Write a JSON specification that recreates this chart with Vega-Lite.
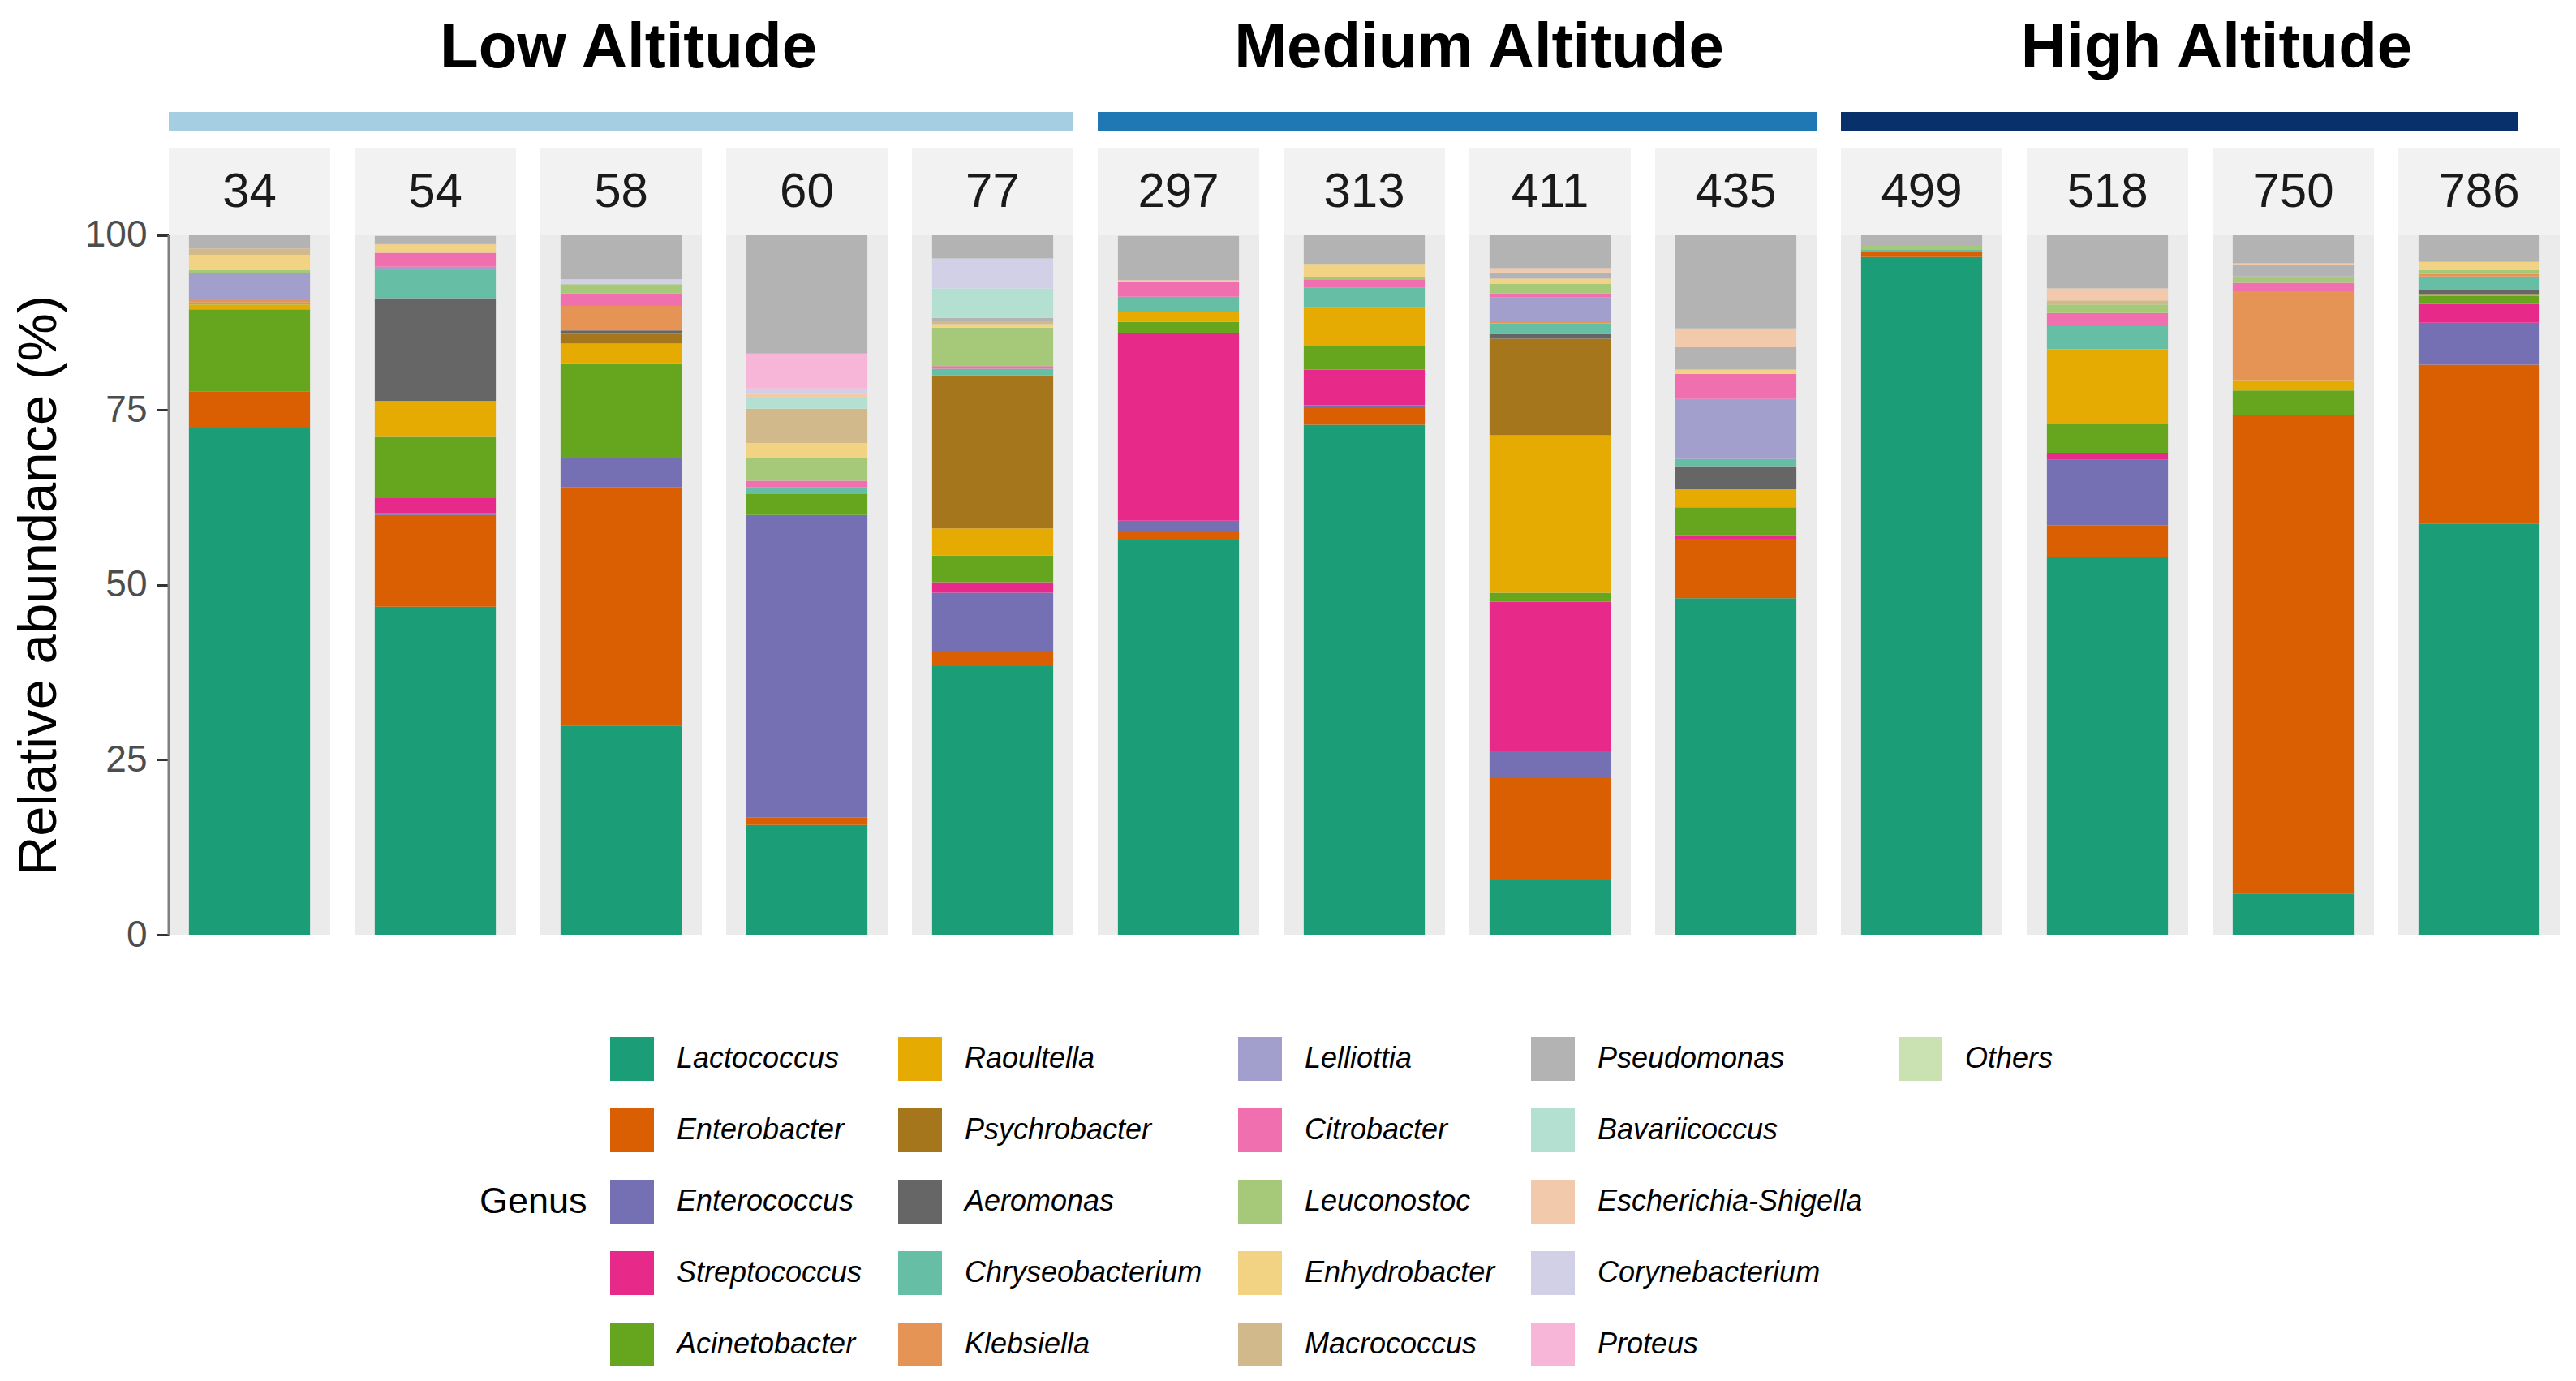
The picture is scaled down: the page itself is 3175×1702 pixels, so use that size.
{
  "$schema": "https://vega.github.io/schema/vega-lite/v6.json",
  "padding": {"left": 14, "top": 21, "right": 10, "bottom": 10},
  "background": "white",
  "datasets": {
    "abundance": [
      {"sample": 34, "genus": "Lactococcus", "abundance": 72.5},
      {"sample": 34, "genus": "Enterobacter", "abundance": 5.2},
      {"sample": 34, "genus": "Acinetobacter", "abundance": 11.7},
      {"sample": 34, "genus": "Raoultella", "abundance": 0.7},
      {"sample": 34, "genus": "Chryseobacterium", "abundance": 0.3},
      {"sample": 34, "genus": "Klebsiella", "abundance": 0.5},
      {"sample": 34, "genus": "Lelliottia", "abundance": 3.7},
      {"sample": 34, "genus": "Leuconostoc", "abundance": 0.4},
      {"sample": 34, "genus": "Enhydrobacter", "abundance": 2.2},
      {"sample": 34, "genus": "Macrococcus", "abundance": 0.9},
      {"sample": 34, "genus": "Unclassified", "abundance": 1.9},
      {"sample": 54, "genus": "Lactococcus", "abundance": 46.9},
      {"sample": 54, "genus": "Enterobacter", "abundance": 13.1},
      {"sample": 54, "genus": "Enterococcus", "abundance": 0.3},
      {"sample": 54, "genus": "Streptococcus", "abundance": 2.1},
      {"sample": 54, "genus": "Acinetobacter", "abundance": 8.9},
      {"sample": 54, "genus": "Raoultella", "abundance": 5.0},
      {"sample": 54, "genus": "Aeromonas", "abundance": 14.7},
      {"sample": 54, "genus": "Chryseobacterium", "abundance": 4.0},
      {"sample": 54, "genus": "Lelliottia", "abundance": 0.5},
      {"sample": 54, "genus": "Citrobacter", "abundance": 2.0},
      {"sample": 54, "genus": "Enhydrobacter", "abundance": 1.2},
      {"sample": 54, "genus": "Macrococcus", "abundance": 0.2},
      {"sample": 54, "genus": "Unclassified", "abundance": 1.0},
      {"sample": 58, "genus": "Lactococcus", "abundance": 29.9},
      {"sample": 58, "genus": "Enterobacter", "abundance": 34.1},
      {"sample": 58, "genus": "Enterococcus", "abundance": 4.1},
      {"sample": 58, "genus": "Acinetobacter", "abundance": 13.6},
      {"sample": 58, "genus": "Raoultella", "abundance": 2.8},
      {"sample": 58, "genus": "Psychrobacter", "abundance": 1.4},
      {"sample": 58, "genus": "Aeromonas", "abundance": 0.5},
      {"sample": 58, "genus": "Klebsiella", "abundance": 3.5},
      {"sample": 58, "genus": "Citrobacter", "abundance": 1.8},
      {"sample": 58, "genus": "Leuconostoc", "abundance": 1.3},
      {"sample": 58, "genus": "Corynebacterium", "abundance": 0.7},
      {"sample": 58, "genus": "Unclassified", "abundance": 6.3},
      {"sample": 60, "genus": "Lactococcus", "abundance": 15.7},
      {"sample": 60, "genus": "Enterobacter", "abundance": 1.1},
      {"sample": 60, "genus": "Enterococcus", "abundance": 43.2},
      {"sample": 60, "genus": "Acinetobacter", "abundance": 3.0},
      {"sample": 60, "genus": "Chryseobacterium", "abundance": 1.0},
      {"sample": 60, "genus": "Citrobacter", "abundance": 0.9},
      {"sample": 60, "genus": "Leuconostoc", "abundance": 3.3},
      {"sample": 60, "genus": "Enhydrobacter", "abundance": 2.1},
      {"sample": 60, "genus": "Macrococcus", "abundance": 4.9},
      {"sample": 60, "genus": "Bavariicoccus", "abundance": 1.6},
      {"sample": 60, "genus": "Escherichia-Shigella", "abundance": 0.6},
      {"sample": 60, "genus": "Corynebacterium", "abundance": 0.7},
      {"sample": 60, "genus": "Proteus", "abundance": 5.0},
      {"sample": 60, "genus": "Unclassified", "abundance": 16.9},
      {"sample": 77, "genus": "Lactococcus", "abundance": 38.4},
      {"sample": 77, "genus": "Enterobacter", "abundance": 2.2},
      {"sample": 77, "genus": "Enterococcus", "abundance": 8.3},
      {"sample": 77, "genus": "Streptococcus", "abundance": 1.5},
      {"sample": 77, "genus": "Acinetobacter", "abundance": 3.8},
      {"sample": 77, "genus": "Raoultella", "abundance": 3.9},
      {"sample": 77, "genus": "Psychrobacter", "abundance": 21.9},
      {"sample": 77, "genus": "Chryseobacterium", "abundance": 0.9},
      {"sample": 77, "genus": "Citrobacter", "abundance": 0.4},
      {"sample": 77, "genus": "Leuconostoc", "abundance": 5.5},
      {"sample": 77, "genus": "Enhydrobacter", "abundance": 0.5},
      {"sample": 77, "genus": "Macrococcus", "abundance": 0.5},
      {"sample": 77, "genus": "Pseudomonas", "abundance": 0.4},
      {"sample": 77, "genus": "Bavariicoccus", "abundance": 4.2},
      {"sample": 77, "genus": "Corynebacterium", "abundance": 4.3},
      {"sample": 77, "genus": "Unclassified", "abundance": 3.3},
      {"sample": 297, "genus": "Lactococcus", "abundance": 56.5},
      {"sample": 297, "genus": "Enterobacter", "abundance": 1.2},
      {"sample": 297, "genus": "Enterococcus", "abundance": 1.5},
      {"sample": 297, "genus": "Streptococcus", "abundance": 26.8},
      {"sample": 297, "genus": "Acinetobacter", "abundance": 1.6},
      {"sample": 297, "genus": "Raoultella", "abundance": 1.4},
      {"sample": 297, "genus": "Chryseobacterium", "abundance": 2.2},
      {"sample": 297, "genus": "Citrobacter", "abundance": 2.2},
      {"sample": 297, "genus": "Escherichia-Shigella", "abundance": 0.2},
      {"sample": 297, "genus": "Unclassified", "abundance": 6.3},
      {"sample": 313, "genus": "Lactococcus", "abundance": 72.9},
      {"sample": 313, "genus": "Enterobacter", "abundance": 2.4},
      {"sample": 313, "genus": "Enterococcus", "abundance": 0.4},
      {"sample": 313, "genus": "Streptococcus", "abundance": 5.1},
      {"sample": 313, "genus": "Acinetobacter", "abundance": 3.4},
      {"sample": 313, "genus": "Raoultella", "abundance": 5.5},
      {"sample": 313, "genus": "Chryseobacterium", "abundance": 2.8},
      {"sample": 313, "genus": "Citrobacter", "abundance": 1.2},
      {"sample": 313, "genus": "Leuconostoc", "abundance": 0.3},
      {"sample": 313, "genus": "Enhydrobacter", "abundance": 1.9},
      {"sample": 313, "genus": "Unclassified", "abundance": 4.1},
      {"sample": 411, "genus": "Lactococcus", "abundance": 7.8},
      {"sample": 411, "genus": "Enterobacter", "abundance": 14.6},
      {"sample": 411, "genus": "Enterococcus", "abundance": 3.9},
      {"sample": 411, "genus": "Streptococcus", "abundance": 21.3},
      {"sample": 411, "genus": "Acinetobacter", "abundance": 1.3},
      {"sample": 411, "genus": "Raoultella", "abundance": 22.5},
      {"sample": 411, "genus": "Psychrobacter", "abundance": 13.8},
      {"sample": 411, "genus": "Aeromonas", "abundance": 0.7},
      {"sample": 411, "genus": "Chryseobacterium", "abundance": 1.5},
      {"sample": 411, "genus": "Klebsiella", "abundance": 0.3},
      {"sample": 411, "genus": "Lelliottia", "abundance": 3.4},
      {"sample": 411, "genus": "Citrobacter", "abundance": 0.6},
      {"sample": 411, "genus": "Leuconostoc", "abundance": 1.4},
      {"sample": 411, "genus": "Enhydrobacter", "abundance": 0.7},
      {"sample": 411, "genus": "Pseudomonas", "abundance": 0.9},
      {"sample": 411, "genus": "Escherichia-Shigella", "abundance": 0.6},
      {"sample": 411, "genus": "Unclassified", "abundance": 4.7},
      {"sample": 435, "genus": "Lactococcus", "abundance": 48.1},
      {"sample": 435, "genus": "Enterobacter", "abundance": 8.5},
      {"sample": 435, "genus": "Streptococcus", "abundance": 0.5},
      {"sample": 435, "genus": "Acinetobacter", "abundance": 4.0},
      {"sample": 435, "genus": "Raoultella", "abundance": 2.6},
      {"sample": 435, "genus": "Aeromonas", "abundance": 3.3},
      {"sample": 435, "genus": "Chryseobacterium", "abundance": 1.0},
      {"sample": 435, "genus": "Lelliottia", "abundance": 8.6},
      {"sample": 435, "genus": "Citrobacter", "abundance": 3.6},
      {"sample": 435, "genus": "Enhydrobacter", "abundance": 0.6},
      {"sample": 435, "genus": "Pseudomonas", "abundance": 3.2},
      {"sample": 435, "genus": "Escherichia-Shigella", "abundance": 2.7},
      {"sample": 435, "genus": "Unclassified", "abundance": 13.3},
      {"sample": 499, "genus": "Lactococcus", "abundance": 96.9},
      {"sample": 499, "genus": "Enterobacter", "abundance": 0.7},
      {"sample": 499, "genus": "Chryseobacterium", "abundance": 0.4},
      {"sample": 499, "genus": "Leuconostoc", "abundance": 0.5},
      {"sample": 499, "genus": "Unclassified", "abundance": 1.5},
      {"sample": 518, "genus": "Lactococcus", "abundance": 54.0},
      {"sample": 518, "genus": "Enterobacter", "abundance": 4.5},
      {"sample": 518, "genus": "Enterococcus", "abundance": 9.4},
      {"sample": 518, "genus": "Streptococcus", "abundance": 1.0},
      {"sample": 518, "genus": "Acinetobacter", "abundance": 4.1},
      {"sample": 518, "genus": "Raoultella", "abundance": 10.7},
      {"sample": 518, "genus": "Chryseobacterium", "abundance": 3.3},
      {"sample": 518, "genus": "Citrobacter", "abundance": 1.9},
      {"sample": 518, "genus": "Leuconostoc", "abundance": 1.2},
      {"sample": 518, "genus": "Macrococcus", "abundance": 0.6},
      {"sample": 518, "genus": "Escherichia-Shigella", "abundance": 1.7},
      {"sample": 518, "genus": "Unclassified", "abundance": 7.6},
      {"sample": 750, "genus": "Lactococcus", "abundance": 5.9},
      {"sample": 750, "genus": "Enterobacter", "abundance": 68.4},
      {"sample": 750, "genus": "Acinetobacter", "abundance": 3.5},
      {"sample": 750, "genus": "Raoultella", "abundance": 1.5},
      {"sample": 750, "genus": "Klebsiella", "abundance": 12.7},
      {"sample": 750, "genus": "Citrobacter", "abundance": 1.2},
      {"sample": 750, "genus": "Leuconostoc", "abundance": 0.9},
      {"sample": 750, "genus": "Pseudomonas", "abundance": 1.6},
      {"sample": 750, "genus": "Escherichia-Shigella", "abundance": 0.3},
      {"sample": 750, "genus": "Unclassified", "abundance": 4.0},
      {"sample": 786, "genus": "Lactococcus", "abundance": 58.8},
      {"sample": 786, "genus": "Enterobacter", "abundance": 22.7},
      {"sample": 786, "genus": "Enterococcus", "abundance": 6.0},
      {"sample": 786, "genus": "Streptococcus", "abundance": 2.7},
      {"sample": 786, "genus": "Acinetobacter", "abundance": 1.1},
      {"sample": 786, "genus": "Raoultella", "abundance": 0.3},
      {"sample": 786, "genus": "Aeromonas", "abundance": 0.6},
      {"sample": 786, "genus": "Chryseobacterium", "abundance": 1.9},
      {"sample": 786, "genus": "Klebsiella", "abundance": 0.4},
      {"sample": 786, "genus": "Leuconostoc", "abundance": 0.5},
      {"sample": 786, "genus": "Enhydrobacter", "abundance": 1.2},
      {"sample": 786, "genus": "Unclassified", "abundance": 3.8}
    ],
    "genera": [
      {"genus": "Lactococcus", "rank": 1},
      {"genus": "Enterobacter", "rank": 2},
      {"genus": "Enterococcus", "rank": 3},
      {"genus": "Streptococcus", "rank": 4},
      {"genus": "Acinetobacter", "rank": 5},
      {"genus": "Raoultella", "rank": 6},
      {"genus": "Psychrobacter", "rank": 7},
      {"genus": "Aeromonas", "rank": 8},
      {"genus": "Chryseobacterium", "rank": 9},
      {"genus": "Klebsiella", "rank": 10},
      {"genus": "Lelliottia", "rank": 11},
      {"genus": "Citrobacter", "rank": 12},
      {"genus": "Leuconostoc", "rank": 13},
      {"genus": "Enhydrobacter", "rank": 14},
      {"genus": "Macrococcus", "rank": 15},
      {"genus": "Pseudomonas", "rank": 16},
      {"genus": "Bavariicoccus", "rank": 17},
      {"genus": "Escherichia-Shigella", "rank": 18},
      {"genus": "Corynebacterium", "rank": 19},
      {"genus": "Proteus", "rank": 20},
      {"genus": "Others", "rank": 21},
      {"genus": "Unclassified", "rank": 22}
    ]
  },
  "spacing": 6,
  "hconcat": [
    {
      "bounds": "flush",
      "spacing": 21,
      "vconcat": [
        {
          "data": {"values": [{}]},
          "width": 1115,
          "height": 24,
          "view": {"stroke": null},
          "title": {"text": "Low Altitude", "offset": 39, "dx": 9},
          "mark": {"type": "rule", "color": "#a6cee3", "strokeWidth": 24},
          "encoding": {
            "y": {"datum": 0, "type": "quantitative", "scale": {"domain": [-1, 1]}, "axis": null}
          }
        },
        {
          "data": {"name": "abundance"},
          "transform": [{"filter": {"field": "sample", "oneOf": [34, 54, 58, 60, 77]}}],
          "width": 1115,
          "height": 969,
          "view": {"stroke": null},
          "encoding": {
            "x": {"field": "sample", "type": "ordinal", "axis": null, "scale": {"paddingInner": 0.131, "paddingOuter": 0}}
          },
          "layer": [
            {
              "transform": [{"aggregate": [{"op": "count", "as": "n"}], "groupby": ["sample"]}],
              "mark": {"type": "rect", "color": "#ebebeb"},
              "encoding": {
                "y": {"datum": 0, "type": "quantitative"},
                "y2": {"datum": 100}
              }
            },
            {
              "transform": [{"aggregate": [{"op": "count", "as": "n"}], "groupby": ["sample"]}],
              "mark": {"type": "rect", "color": "#f2f2f2"},
              "encoding": {
                "y": {"datum": 100, "type": "quantitative"},
                "y2": {"datum": 112.41}
              }
            },
            {
              "transform": [{"aggregate": [{"op": "count", "as": "n"}], "groupby": ["sample"]}],
              "mark": {"type": "text", "fontSize": 60, "color": "#1a1a1a", "baseline": "middle"},
              "encoding": {
                "y": {"datum": 106.2, "type": "quantitative"},
                "text": {"field": "sample", "type": "ordinal"}
              }
            },
            {
              "transform": [{"lookup": "genus", "from": {"data": {"name": "genera"}, "key": "genus", "fields": ["rank"]}}],
              "mark": {"type": "bar", "width": {"band": 0.75}},
              "encoding": {
                "y": {
                  "field": "abundance",
                  "type": "quantitative",
                  "stack": "zero",
                  "scale": {"domain": [0, 112.41], "nice": false},
                  "axis": {
                    "title": "Relative abundance (%)",
                    "values": [0, 25, 50, 75, 100],
                    "grid": false,
                    "domain": false,
                    "tickColor": "#333333",
                    "tickWidth": 3,
                    "tickSize": 15,
                    "labelFontSize": 46,
                    "labelColor": "#4d4d4d",
                    "labelPadding": 12,
                    "titleFontSize": 67,
                    "titleFontWeight": "normal",
                    "titleColor": "#000000",
                    "titlePadding": 22,
                    "titleY": 538
                  }
                },
                "color": {
                  "field": "genus",
                  "type": "nominal",
                  "scale": {
                    "domain": ["Lactococcus", "Enterobacter", "Enterococcus", "Streptococcus", "Acinetobacter", "Raoultella", "Psychrobacter", "Aeromonas", "Chryseobacterium", "Klebsiella", "Lelliottia", "Citrobacter", "Leuconostoc", "Enhydrobacter", "Macrococcus", "Pseudomonas", "Bavariicoccus", "Escherichia-Shigella", "Corynebacterium", "Proteus", "Others", " ", "  ", "   ", "    ", "Unclassified"],
                    "range": ["#1b9e77", "#d95f02", "#7570b3", "#e7298a", "#66a61e", "#e6ab02", "#a6761d", "#666666", "#66bfa4", "#e69455", "#a29fcc", "#f06fae", "#a5c978", "#f2d383", "#d2b98b", "#b3b3b3", "#b3e0d1", "#f2c9ab", "#d2d0e6", "#f7b5d7", "#cae1b1", "rgba(0,0,0,0)", "rgba(0,0,0,0)", "rgba(0,0,0,0)", "rgba(0,0,0,0)", "#b3b3b3"]
                  },
                  "legend": {
                    "title": "Genus",
                    "values": ["Lactococcus", "Enterobacter", "Enterococcus", "Streptococcus", "Acinetobacter", "Raoultella", "Psychrobacter", "Aeromonas", "Chryseobacterium", "Klebsiella", "Lelliottia", "Citrobacter", "Leuconostoc", "Enhydrobacter", "Macrococcus", "Pseudomonas", "Bavariicoccus", "Escherichia-Shigella", "Corynebacterium", "Proteus", "Others", " ", "  ", "   ", "    "],
                    "encode": {"title": {"update": {"angle": {"value": 0}, "align": {"value": "left"}, "baseline": {"value": "middle"}}}}
                  }
                },
                "order": {"field": "rank", "type": "quantitative"}
              }
            },
            {
              "transform": [
                {"filter": {"field": "sample", "equal": 34}},
                {"aggregate": [{"op": "count", "as": "n"}], "groupby": ["sample"]}
              ],
              "mark": {"type": "rule", "color": "#7f7f7f", "strokeWidth": 3},
              "encoding": {
                "x": {"field": "sample", "type": "ordinal", "bandPosition": 0},
                "y": {"datum": 0, "type": "quantitative"},
                "y2": {"datum": 100}
              }
            }
          ]
        }
      ]
    },
    {
      "bounds": "flush",
      "spacing": 21,
      "vconcat": [
        {
          "data": {"values": [{}]},
          "width": 886,
          "height": 24,
          "view": {"stroke": null},
          "title": {"text": "Medium Altitude", "offset": 39, "dx": 27},
          "mark": {"type": "rule", "color": "#1f78b4", "strokeWidth": 24},
          "encoding": {
            "y": {"datum": 0, "type": "quantitative", "scale": {"domain": [-1, 1]}, "axis": null}
          }
        },
        {
          "data": {"name": "abundance"},
          "transform": [{"filter": {"field": "sample", "oneOf": [297, 313, 411, 435]}}],
          "width": 886,
          "height": 969,
          "view": {"stroke": null},
          "encoding": {
            "x": {"field": "sample", "type": "ordinal", "axis": null, "scale": {"paddingInner": 0.131, "paddingOuter": 0}}
          },
          "layer": [
            {
              "transform": [{"aggregate": [{"op": "count", "as": "n"}], "groupby": ["sample"]}],
              "mark": {"type": "rect", "color": "#ebebeb"},
              "encoding": {
                "y": {"datum": 0, "type": "quantitative", "axis": null},
                "y2": {"datum": 100}
              }
            },
            {
              "transform": [{"aggregate": [{"op": "count", "as": "n"}], "groupby": ["sample"]}],
              "mark": {"type": "rect", "color": "#f2f2f2"},
              "encoding": {
                "y": {"datum": 100, "type": "quantitative", "axis": null},
                "y2": {"datum": 112.41}
              }
            },
            {
              "transform": [{"aggregate": [{"op": "count", "as": "n"}], "groupby": ["sample"]}],
              "mark": {"type": "text", "fontSize": 60, "color": "#1a1a1a", "baseline": "middle"},
              "encoding": {
                "y": {"datum": 106.2, "type": "quantitative", "axis": null},
                "text": {"field": "sample", "type": "ordinal"}
              }
            },
            {
              "transform": [{"lookup": "genus", "from": {"data": {"name": "genera"}, "key": "genus", "fields": ["rank"]}}],
              "mark": {"type": "bar", "width": {"band": 0.75}},
              "encoding": {
                "y": {
                  "field": "abundance",
                  "type": "quantitative",
                  "stack": "zero",
                  "scale": {"domain": [0, 112.41], "nice": false},
                  "axis": null
                },
                "color": {
                  "field": "genus",
                  "type": "nominal",
                  "scale": {
                    "domain": ["Lactococcus", "Enterobacter", "Enterococcus", "Streptococcus", "Acinetobacter", "Raoultella", "Psychrobacter", "Aeromonas", "Chryseobacterium", "Klebsiella", "Lelliottia", "Citrobacter", "Leuconostoc", "Enhydrobacter", "Macrococcus", "Pseudomonas", "Bavariicoccus", "Escherichia-Shigella", "Corynebacterium", "Proteus", "Others", " ", "  ", "   ", "    ", "Unclassified"],
                    "range": ["#1b9e77", "#d95f02", "#7570b3", "#e7298a", "#66a61e", "#e6ab02", "#a6761d", "#666666", "#66bfa4", "#e69455", "#a29fcc", "#f06fae", "#a5c978", "#f2d383", "#d2b98b", "#b3b3b3", "#b3e0d1", "#f2c9ab", "#d2d0e6", "#f7b5d7", "#cae1b1", "rgba(0,0,0,0)", "rgba(0,0,0,0)", "rgba(0,0,0,0)", "rgba(0,0,0,0)", "#b3b3b3"]
                  },
                  "legend": {
                    "title": "Genus",
                    "values": ["Lactococcus", "Enterobacter", "Enterococcus", "Streptococcus", "Acinetobacter", "Raoultella", "Psychrobacter", "Aeromonas", "Chryseobacterium", "Klebsiella", "Lelliottia", "Citrobacter", "Leuconostoc", "Enhydrobacter", "Macrococcus", "Pseudomonas", "Bavariicoccus", "Escherichia-Shigella", "Corynebacterium", "Proteus", "Others", " ", "  ", "   ", "    "],
                    "encode": {"title": {"update": {"angle": {"value": 0}, "align": {"value": "left"}, "baseline": {"value": "middle"}}}}
                  }
                },
                "order": {"field": "rank", "type": "quantitative"}
              }
            }
          ]
        }
      ]
    },
    {
      "bounds": "flush",
      "spacing": 21,
      "vconcat": [
        {
          "data": {"values": [{}]},
          "width": 886,
          "height": 24,
          "view": {"stroke": null},
          "title": {"text": "High Altitude", "offset": 39, "dx": 20},
          "mark": {"type": "rule", "color": "#08306b", "strokeWidth": 24},
          "encoding": {
            "x": {"datum": 0, "type": "quantitative", "scale": {"domain": [0, 1]}, "axis": null},
            "x2": {"datum": 0.942},
            "y": {"datum": 0, "type": "quantitative", "scale": {"domain": [-1, 1]}, "axis": null}
          }
        },
        {
          "data": {"name": "abundance"},
          "transform": [{"filter": {"field": "sample", "oneOf": [499, 518, 750, 786]}}],
          "width": 886,
          "height": 969,
          "view": {"stroke": null},
          "encoding": {
            "x": {"field": "sample", "type": "ordinal", "axis": null, "scale": {"paddingInner": 0.131, "paddingOuter": 0}}
          },
          "layer": [
            {
              "transform": [{"aggregate": [{"op": "count", "as": "n"}], "groupby": ["sample"]}],
              "mark": {"type": "rect", "color": "#ebebeb"},
              "encoding": {
                "y": {"datum": 0, "type": "quantitative", "axis": null},
                "y2": {"datum": 100}
              }
            },
            {
              "transform": [{"aggregate": [{"op": "count", "as": "n"}], "groupby": ["sample"]}],
              "mark": {"type": "rect", "color": "#f2f2f2"},
              "encoding": {
                "y": {"datum": 100, "type": "quantitative", "axis": null},
                "y2": {"datum": 112.41}
              }
            },
            {
              "transform": [{"aggregate": [{"op": "count", "as": "n"}], "groupby": ["sample"]}],
              "mark": {"type": "text", "fontSize": 60, "color": "#1a1a1a", "baseline": "middle"},
              "encoding": {
                "y": {"datum": 106.2, "type": "quantitative", "axis": null},
                "text": {"field": "sample", "type": "ordinal"}
              }
            },
            {
              "transform": [{"lookup": "genus", "from": {"data": {"name": "genera"}, "key": "genus", "fields": ["rank"]}}],
              "mark": {"type": "bar", "width": {"band": 0.75}},
              "encoding": {
                "y": {
                  "field": "abundance",
                  "type": "quantitative",
                  "stack": "zero",
                  "scale": {"domain": [0, 112.41], "nice": false},
                  "axis": null
                },
                "color": {
                  "field": "genus",
                  "type": "nominal",
                  "scale": {
                    "domain": ["Lactococcus", "Enterobacter", "Enterococcus", "Streptococcus", "Acinetobacter", "Raoultella", "Psychrobacter", "Aeromonas", "Chryseobacterium", "Klebsiella", "Lelliottia", "Citrobacter", "Leuconostoc", "Enhydrobacter", "Macrococcus", "Pseudomonas", "Bavariicoccus", "Escherichia-Shigella", "Corynebacterium", "Proteus", "Others", " ", "  ", "   ", "    ", "Unclassified"],
                    "range": ["#1b9e77", "#d95f02", "#7570b3", "#e7298a", "#66a61e", "#e6ab02", "#a6761d", "#666666", "#66bfa4", "#e69455", "#a29fcc", "#f06fae", "#a5c978", "#f2d383", "#d2b98b", "#b3b3b3", "#b3e0d1", "#f2c9ab", "#d2d0e6", "#f7b5d7", "#cae1b1", "rgba(0,0,0,0)", "rgba(0,0,0,0)", "rgba(0,0,0,0)", "rgba(0,0,0,0)", "#b3b3b3"]
                  },
                  "legend": {
                    "title": "Genus",
                    "values": ["Lactococcus", "Enterobacter", "Enterococcus", "Streptococcus", "Acinetobacter", "Raoultella", "Psychrobacter", "Aeromonas", "Chryseobacterium", "Klebsiella", "Lelliottia", "Citrobacter", "Leuconostoc", "Enhydrobacter", "Macrococcus", "Pseudomonas", "Bavariicoccus", "Escherichia-Shigella", "Corynebacterium", "Proteus", "Others", " ", "  ", "   ", "    "],
                    "encode": {"title": {"update": {"angle": {"value": 0}, "align": {"value": "left"}, "baseline": {"value": "middle"}}}}
                  }
                },
                "order": {"field": "rank", "type": "quantitative"}
              }
            }
          ]
        }
      ]
    }
  ],
  "config": {
    "font": "Liberation Sans",
    "view": {"stroke": null},
    "title": {"fontSize": 78, "fontWeight": "bold", "color": "#000000", "baseline": "alphabetic", "font": "Liberation Sans"},
    "legend": {
      "orient": "none",
      "legendX": 383,
      "legendY": 1140,
      "padding": 0,
      "columns": 5,
      "columnPadding": 44,
      "rowPadding": 34,
      "gridAlign": "each",
      "symbolType": "square",
      "symbolSize": 2916,
      "symbolStrokeWidth": 0,
      "symbolOpacity": 1,
      "labelFont": "Liberation Sans",
      "labelFontSize": 36,
      "labelFontStyle": "italic",
      "labelColor": "#000000",
      "labelOffset": 28,
      "labelLimit": 600,
      "titleFont": "Liberation Sans",
      "titleFontSize": 45,
      "titleFontWeight": "normal",
      "titleColor": "#000000",
      "titleOrient": "left",
      "titlePadding": 28,
      "titleAnchor": "middle",
      "titleLimit": 400
    }
  }
}
